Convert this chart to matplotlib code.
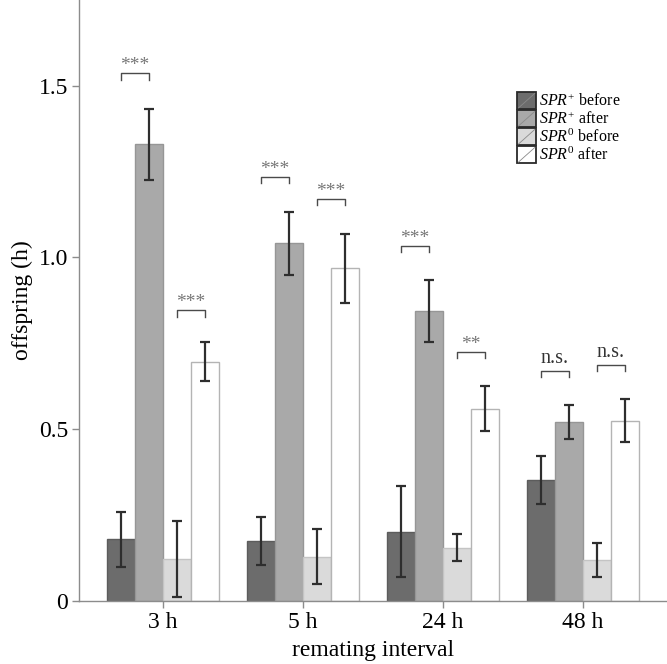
import matplotlib
matplotlib.use("Agg")
import matplotlib.pyplot as plt
from matplotlib.patches import Patch, Rectangle
from matplotlib.lines import Line2D
from matplotlib.legend_handler import HandlerBase
import numpy as np

plt.rcParams['font.family'] = ['Liberation Serif', 'DejaVu Serif']
plt.rcParams['mathtext.fontset'] = 'custom'
plt.rcParams['mathtext.rm'] = 'Liberation Serif'
plt.rcParams['mathtext.it'] = 'Liberation Serif:italic'

# data
intervals = ['3 h', '5 h', '24 h', '48 h']
series_labels = [r'$\mathit{SPR}^{+}$ before', r'$\mathit{SPR}^{+}$ after',
                 r'$\mathit{SPR}^{0}$ before', r'$\mathit{SPR}^{0}$ after']
spr_plus_before = [0.179, 0.175, 0.201, 0.353]
spr_plus_before_err = [0.080, 0.070, 0.133, 0.070]
spr_plus_after = [1.330, 1.041, 0.845, 0.520]
spr_plus_after_err = [0.103, 0.092, 0.090, 0.050]
spr0_before = [0.121, 0.128, 0.155, 0.118]
spr0_before_err = [0.111, 0.080, 0.040, 0.050]
spr0_after = [0.697, 0.968, 0.560, 0.525]
spr0_after_err = [0.056, 0.100, 0.065, 0.063]

# significance brackets: (group, first bar, second bar, height, label)
sig_groups = [0, 0, 1, 1, 2, 2, 3, 3]
sig_pairs = [(0, 1), (2, 3), (0, 1), (2, 3), (0, 1), (2, 3), (0, 1), (2, 3)]
sig_heights = [1.536, 0.846, 1.234, 1.170, 1.033, 0.725, 0.669, 0.687]
sig_labels = ['***', '***', '***', '***', '***', '**', 'n.s.', 'n.s.']

means = [spr_plus_before, spr_plus_after, spr0_before, spr0_after]
errs = [spr_plus_before_err, spr_plus_after_err, spr0_before_err, spr0_after_err]
face = ['#6c6c6c', '#a9a9a9', '#dadada', '#ffffff']
edge = ['#5c5c5c', '#969696', '#c4c4c4', '#b4b4b4']


class DiagHandler(HandlerBase):
    def create_artists(self, legend, orig_handle, xdescent, ydescent,
                       width, height, fontsize, trans):
        r = Rectangle((-xdescent, -ydescent), width, height,
                      facecolor=orig_handle.get_facecolor(), edgecolor='#2a2a2a',
                      lw=1.3, transform=trans)
        l = Line2D([-xdescent + 1, -xdescent + width - 1],
                   [-ydescent + 1, -ydescent + height - 1],
                   color='#8a8a8a', lw=0.6, transform=trans)
        return [r, l]


fig = plt.figure(figsize=(6.67, 6.64), dpi=100)
ax = fig.add_axes([79 / 667, 0.0952, 1 - 79 / 667, 1 - 0.0952])

x = np.arange(len(intervals))
w = 0.2
offsets = [-1.5, -0.5, 0.5, 1.5]
for i in range(4):
    ax.bar(x + offsets[i] * w, means[i], w, color=face[i], edgecolor=edge[i],
           linewidth=1.0, zorder=2)
    ax.errorbar(x + offsets[i] * w, means[i], yerr=errs[i], fmt='none',
                ecolor='#2e2e2e', elinewidth=1.6, capsize=3.5, capthick=1.6, zorder=3)

drop = 0.018
for g, (a, b), h, lab in zip(sig_groups, sig_pairs, sig_heights, sig_labels):
    x1 = g + offsets[a] * w
    x2 = g + offsets[b] * w
    ax.plot([x1, x1, x2, x2], [h - drop, h, h, h - drop], color='#4a4a4a', lw=1.0)
    if lab == 'n.s.':
        ax.text((x1 + x2) / 2, h + 0.008, lab, ha='center', va='bottom',
                fontsize=14.5, color='#333333')
    else:
        ax.text((x1 + x2) / 2, h - 0.002, lab, ha='center', va='bottom',
                fontsize=14, color='#777777')

ax.set_xlim(-0.6, 3.6)
ax.set_ylim(0, 1.75)
ax.set_xticks(x)
ax.set_xticklabels(intervals)
ax.set_yticks([0, 0.5, 1.0, 1.5])
ax.set_yticklabels(['0', '0.5', '1.0', '1.5'])
ax.tick_params(axis='both', labelsize=17, direction='out', length=5,
               color='#8c8c8c', width=1.0)
ax.tick_params(axis='y', pad=3)
ax.tick_params(axis='x', pad=3)
for s in ['top', 'right']:
    ax.spines[s].set_visible(False)
for s in ['left', 'bottom']:
    ax.spines[s].set_color('#8c8c8c')
    ax.spines[s].set_linewidth(1.0)

ax.set_xlabel('remating interval', fontsize=17, labelpad=5)
ax.set_ylabel('offspring (h)', fontsize=17, labelpad=4)

handles = [Patch(facecolor=c) for c in face]
ax.legend(handles, series_labels, handler_map={Patch: DiagHandler()},
          loc='upper left', bbox_to_anchor=(0.745, 0.847), frameon=False,
          fontsize=11.5, handlelength=1.2, handleheight=1.3, labelspacing=0.0,
          handletextpad=0.2, borderpad=0, borderaxespad=0)

fig.savefig('out.png', dpi=100)
